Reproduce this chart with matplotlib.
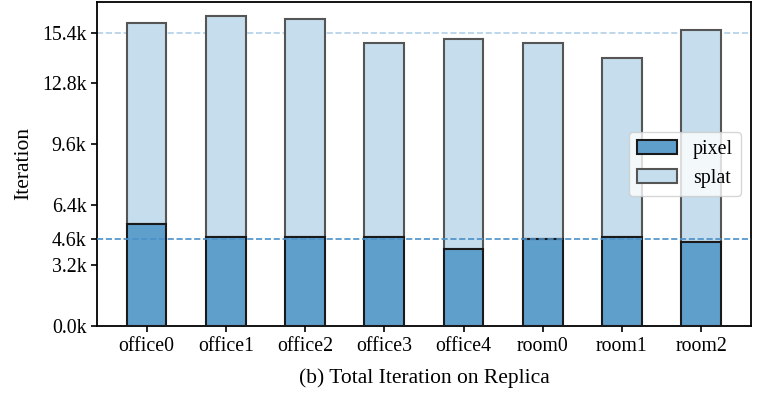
import numpy as np
import matplotlib.pyplot as plt

plt.rcParams['font.family'] = ['Liberation Serif', 'DejaVu Serif']

scenes = ['office0', 'office1', 'office2', 'office3', 'office4', 'room0', 'room1', 'room2']
# iterations (thousands)
pixel = [5.38, 4.71, 4.71, 4.71, 4.06, 4.57, 4.71, 4.43]
total = [15.97, 16.29, 16.18, 14.90, 15.10, 14.92, 14.13, 15.59]
splat = [t - p for t, p in zip(total, pixel)]

pixel_mean = 4.6
total_mean = 15.4
yticks = [0.0, 3.2, 4.6, 6.4, 9.6, 12.8, 15.4]

c_pixel = '#5f9fcc'
c_splat = '#c5ddec'

fig = plt.figure(figsize=(7.7, 3.99), dpi=100)
ax = fig.add_axes([0.126, 0.182, 0.849, 0.814])

x = np.arange(len(scenes))
ax.bar(x, pixel, width=0.5, color=c_pixel, edgecolor='#1a1a1a', linewidth=1.5, label='pixel', zorder=3)
ax.bar(x, splat, width=0.5, bottom=pixel, color=c_splat, edgecolor='#555555', linewidth=1.5,
       label='splat', zorder=2)

ax.axhline(pixel_mean, color='#4a90c8', linestyle='--', linewidth=1.2, zorder=4)
ax.axhline(total_mean, color='#b3d0e6', linestyle='--', linewidth=1.2, zorder=1)

ax.set_xticks(x)
ax.set_xticklabels(scenes)
ax.set_yticks(yticks)
ax.set_yticklabels(['%.1fk' % v for v in yticks])
ax.set_ylim(0, 17.07)
ax.tick_params(labelsize=14.3, width=1.2, length=4)
for s in ax.spines.values():
    s.set_linewidth(1.3)

ax.set_ylabel('Iteration', fontsize=15.5, labelpad=6)
ax.set_xlabel('(b) Total Iteration on Replica', fontsize=15.5, labelpad=9)
ax.legend(loc='center right', fontsize=14.3, framealpha=0.8, handlelength=2.0)

fig.savefig('out.png', dpi=100)
